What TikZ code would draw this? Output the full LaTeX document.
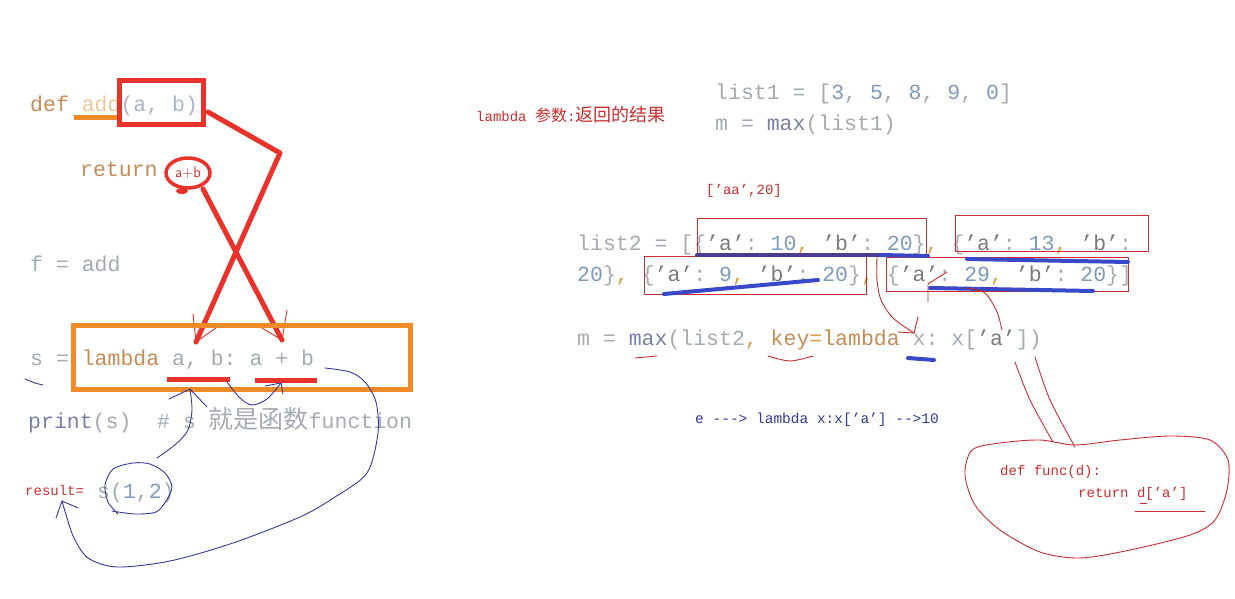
\documentclass[tikz,border=0pt]{standalone}
\usepackage{fontspec}
\setmonofont{Liberation Mono}
\newfontfamily\cjk{Noto Sans CJK SC}
\usepackage{xcolor}
\definecolor{cCode}{HTML}{A5AAB3}
\definecolor{cDef}{HTML}{C68C55}
\definecolor{cAdd}{HTML}{EBC898}
\definecolor{cParam}{HTML}{AAB5CA}
\definecolor{cNum}{HTML}{7E9BBB}
\definecolor{cStr}{HTML}{7B7B7B}
\definecolor{cFunc}{HTML}{7C80A8}
\definecolor{cComma}{HTML}{D9A050}
\definecolor{cPen}{HTML}{E8322A}
\definecolor{cInk}{HTML}{C82E2E}
\definecolor{cBlue}{HTML}{323C98}
\definecolor{cMark}{HTML}{3848C6}
\definecolor{cMarkDark}{HTML}{4A3C8E}
\definecolor{cOrange}{HTML}{F28A28}
\usetikzlibrary{arrows.meta}
\newcommand{\nm}[1]{\textcolor{cNum}{#1}}
\newcommand{\qs}[1]{\textcolor{cStr}{#1}}
\newcommand{\cma}{\textcolor{cComma}{,}}
\tikzset{
  code-line/.style={anchor=base west,inner sep=0pt,text=cCode,
    font=\fontsize{21.5}{24}\selectfont\ttfamily},
  note-red/.style={anchor=base west,inner sep=0pt,text=cInk,
    font=\fontsize{14}{16}\selectfont\ttfamily},
  note-blue/.style={note-red,text=cBlue,font=\fontsize{14.5}{16}\selectfont\ttfamily},
  pen-thick/.style={draw=cPen,line width=5pt,line cap=round,line join=round},
  pen-red/.style={draw=cInk,line width=0.9pt,line cap=round,line join=round},
  pen-blue/.style={draw=cBlue,line width=0.9pt,line cap=round,line join=round},
  marker-blue/.style={draw=cMark,line width=4pt,line cap=round},
  box-red/.style={draw=cInk,line width=1pt},
  box-orange/.style={draw=cOrange,line width=5pt},
}

\begin{document}
\begin{tikzpicture}[x=1pt,y=-1pt]
  \fill[white] (0,0) rectangle (1235,599);
  \useasboundingbox (0,0) rectangle (1235,599);

  % left: code
  \node[code-line] (def-add) at (30,112) {\textcolor{cDef}{def} \textcolor{cAdd}{add}\textcolor{cParam}{(a, b)}:};
  \node[code-line] (ret) at (80,177) {\textcolor{cDef}{return}};
  \node[inner sep=0pt,text=cInk,font=\fontsize{15}{16}\selectfont\sffamily] (ret-ab) at (188,173) {a+b};
  \node[code-line] (f-add) at (30,271) {f = add};
  \node[code-line] (s-lambda) at (30,365) {s = \textcolor{cDef}{lambda} a, b: a + b};
  \node[code-line] (print-s) at (28,428) {\textcolor{cFunc}{print}(s)\ \ \# s {\cjk\fontsize{25}{28}\selectfont 就是函数}function};
  \node[note-red] (result) at (25,495) {result=};
  \node[code-line] (call-s) at (97,498) {s(\nm{1},\nm{2})};

  % right: code
  \node[note-red] (lambda-note) at (476,122) {lambda {\cjk\fontsize{16}{18}\selectfont 参数}:{\cjk\fontsize{18}{18}\selectfont 返回的结果}};
  \node[code-line] (list1) at (715,100) {list1 = [\nm{3}, \nm{5}, \nm{8}, \nm{9}, \nm{0}]};
  \node[code-line] (max1) at (715,131) {m = \textcolor{cFunc}{max}(list1)};
  \node[note-red] (aa-note) at (706,195) {[’aa’,20]};
  \node[code-line] (list2-a) at (577,250) {list2 = [\{\qs{’a’}: \nm{10}\cma{} \qs{’b’}: \nm{20}\}\cma{} \{\qs{’a’}: \nm{13}\cma{} \qs{’b’}:};
  \node[code-line] (list2-b) at (577,281) {\nm{20}\}\cma{} \{\qs{’a’}: \nm{9}\cma{} \qs{’b’}: \nm{20}\}\cma{} \{\qs{’a’}: \nm{29}\cma{} \qs{’b’}: \nm{20}\}]};
  \node[code-line] (max2) at (577,345) {m = \textcolor{cFunc}{max}(list2\cma{} \textcolor{cDef}{key}\textcolor{cComma}{=}\textcolor{cDef}{lambda} x: x[\qs{’a’}])};
  \node[note-blue] (e-note) at (695,423) {e ---> lambda x:x[’a’] -->10};
  \node[note-red] (func-def) at (1000,475) {def func(d):};
  \node[note-red] (func-ret) at (1078,497) {return d[’a’]};

  % left: red pen
  \coordinate (params-out) at (208,112);
  \coordinate (bend) at (280,153);
  \coordinate (tip-a) at (196,342);
  \coordinate (ab-out) at (203,189);
  \coordinate (tip-plus) at (282,340);
  \draw[cOrange,line width=5pt] (74,118) -- (119,118);
  \draw[pen-thick,line cap=butt,line join=miter] (119,81) rectangle (203,125);
  \draw[pen-thick,line width=3.5pt] (ret-ab) ellipse [x radius=22pt,y radius=15pt];
  \fill[cPen] (182,191) ellipse [x radius=6pt,y radius=3pt];
  \draw[pen-thick] (params-out) -- (bend) -- (tip-a);
  \draw[pen-thick] (ab-out) -- (tip-plus);
  \draw[pen-red,draw=cPen] (tip-a) ++(-3,-28) -- (tip-a) -- ++(24,-17);
  \draw[pen-red,draw=cPen] (tip-plus) ++(-25,-15) -- (tip-plus) -- ++(5,-30);
  \draw[box-orange] (73,325) rectangle (410,389);
  \draw[pen-thick,line cap=butt] (167,379) -- (230,379);
  \draw[pen-thick,line cap=butt] (255,380) -- (317,380);

  % left: blue pen
  \coordinate (tip-ab) at (190,389);
  \coordinate (tip-sum) at (281,383);
  \coordinate (tip-result) at (62,501);
  \draw[pen-blue] plot[smooth] coordinates {(25,379) (35,383) (43,385)};
  \draw[pen-blue] plot[smooth] coordinates {(227,382) (240,398) (252,405) (267,399) (tip-sum)};
  \draw[pen-blue] (tip-sum) ++(-16,3) -- (tip-sum) -- ++(2,11);
  \draw[pen-blue] plot[smooth] coordinates {(157,458) (176,444) (188,430) (192,410) (tip-ab)};
  \draw[pen-blue] (tip-ab) ++(-21,10) -- (tip-ab) -- ++(17,18);
  \draw[pen-blue] plot[smooth] coordinates {(118,514) (108,502) (105,485) (113,469) (133,463) (150,464) (165,473) (172,487) (166,501) (156,512) (135,514) (112,511)};
  \draw[pen-blue] plot[smooth] coordinates {(325,368) (350,372) (365,382) (376,402) (378,433) (367,473) (335,497) (300,517) (233,543) (170,561) (117,567) (88,558) (74,538) (67,518) (tip-result)};
  \draw[pen-blue] (tip-result) ++(-6,17) -- (tip-result) -- ++(16,7);

  % right: boxes and markers
  \draw[box-red] (697,218) rectangle (926,256);
  \draw[box-red] (955,215) rectangle (1148,251);
  \draw[box-red] (644,256) rectangle (866,294);
  \draw[box-red] (886,257) rectangle (1128,291);
  \draw[marker-blue,draw=cMarkDark] (697,255) -- (880,255);
  \draw[marker-blue] (880,255) -- (928,256);
  \draw[marker-blue] (967,259) -- (1128,262);
  \draw[marker-blue] (664,294) -- (818,280);
  \draw[marker-blue] (930,288) -- (1093,291);
  \draw[marker-blue] (908,358) -- (934,360);

  % right: red pen
  \coordinate (tip-x) at (914,333);
  \coordinate (tip-dict) at (928,284);
  \draw[pen-red] (635,358) -- (657,356);
  \draw[pen-red] plot[smooth] coordinates {(768,356) (790,361) (813,356)};
  \draw[pen-red] plot[smooth] coordinates {(877,257) (877,280) (881,300) (893,318) (tip-x)};
  \draw[pen-red] (tip-x) ++(-16,-1) -- (tip-x) -- ++(4,-16);
  \draw[pen-red] (tip-dict) ++(19,-12) -- (tip-dict) -- ++(0,18);
  \draw[pen-red] plot[smooth] coordinates {(967,288) (985,293) (997,312) (1002,330)};
  \draw[pen-red] plot[smooth] coordinates {(1015,362) (1030,400) (1053,442)};
  \draw[pen-red] plot[smooth] coordinates {(1035,357) (1050,400) (1075,447)};
  \draw[pen-red] plot[smooth cycle] coordinates {(1075,445) (1120,440) (1170,436) (1210,440) (1228,460) (1227,490) (1215,520) (1190,535) (1130,550) (1080,558) (1040,552) (1000,530) (975,505) (965,475) (972,450) (1000,443) (1040,440)};
  \draw[pen-red] (1135,511) -- (1205,511);
  \draw[pen-red] (1140,503) -- (1147,503);
\end{tikzpicture}
\end{document}
